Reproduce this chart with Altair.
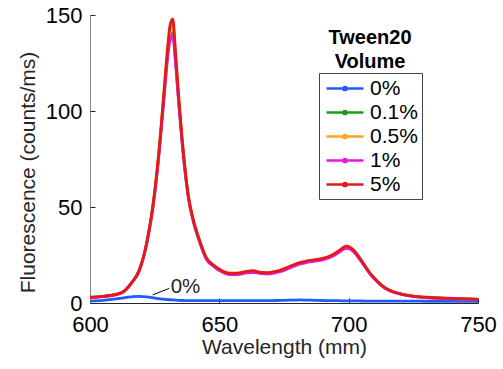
import altair as alt
import pandas as pd

wavelength = [600, 605, 610, 613, 616, 619, 622, 625, 627, 629, 630, 631, 632, 633, 634, 636, 638, 640, 642, 645,
              648, 651, 654, 657, 660, 663, 666, 669, 672, 675, 678, 681, 684, 687, 690, 693, 696, 698, 699, 700,
              702, 704, 706, 708, 711, 714, 717, 720, 725, 730, 740, 750]

series_names = ["0%", "0.1%", "0.5%", "1%", "5%"]
series_colors = ["#1f5bff", "#1a9c1a", "#ffa51a", "#e619e0", "#e31a1a"]

v_0 = [1.0, 1.4, 2.1, 2.7, 3.2, 3.5, 3.2, 2.6, 2.2, 1.9, 1.8, 1.7, 1.6, 1.5, 1.4, 1.3, 1.25, 1.2, 1.2, 1.2,
       1.2, 1.2, 1.2, 1.2, 1.2, 1.2, 1.2, 1.2, 1.3, 1.4, 1.5, 1.6, 1.5, 1.4, 1.3, 1.2, 1.2, 1.1, 1.1, 1.1,
       1.1, 1.1, 1.0, 1.0, 1.0, 1.0, 1.0, 1.0, 1.0, 0.9, 0.9, 0.9]
v_01 = [2.9, 3.4, 4.4, 5.9, 10.3, 16.8, 31.5, 57, 83, 114, 129, 139, 141, 128, 110, 78.5, 55.5, 42.5, 33.6, 23.2,
        19.2, 16.5, 15.2, 15.2, 15.9, 16.4, 15.7, 15.5, 16.2, 17.4, 19.1, 20.6, 21.6, 22.2, 22.9, 24.2, 26.5, 28.4, 29.0, 28.8,
        27.0, 23.6, 19.7, 15.8, 11.3, 7.9, 5.9, 4.7, 3.5, 2.9, 2.3, 1.9]
v_05 = [3.0, 3.5, 4.5, 6.0, 10.4, 16.9, 31.8, 57.5, 83.5, 116, 131, 142, 145, 130, 112, 79.5, 55.8, 42.8, 33.8, 23.4,
        19.4, 16.7, 15.4, 15.4, 16.1, 16.6, 15.9, 15.7, 16.4, 17.6, 19.3, 20.8, 21.8, 22.4, 23.1, 24.4, 26.8, 28.7, 29.3, 29.1,
        27.3, 23.8, 19.9, 15.9, 11.4, 7.9, 5.9, 4.7, 3.5, 2.9, 2.3, 1.9]
v_1 = [2.8, 3.3, 4.3, 5.8, 10.2, 16.6, 31.2, 56.5, 82, 113, 128, 137, 139, 126, 109, 78, 55, 42, 33.2, 22.8,
       18.8, 16.1, 14.8, 14.8, 15.5, 16.0, 15.3, 15.1, 15.8, 17.0, 18.7, 20.2, 21.2, 21.8, 22.5, 23.8, 26.1, 28.0, 28.5, 28.3,
       26.6, 23.2, 19.4, 15.5, 11.1, 7.7, 5.8, 4.6, 3.4, 2.8, 2.2, 1.8]
v_5 = [3.0, 3.5, 4.5, 6.0, 10.5, 17, 32, 58, 84, 117, 133, 145, 148, 132, 113, 80, 56, 43, 34, 23.5,
       19.5, 16.8, 15.5, 15.5, 16.3, 16.8, 16.0, 15.8, 16.5, 17.8, 19.5, 21.0, 22.0, 22.6, 23.3, 24.6, 27.0, 29.0, 29.6, 29.4,
       27.5, 24.0, 20.0, 16.0, 11.5, 8.0, 6.0, 4.8, 3.6, 3.0, 2.4, 2.0]

x_ticks = [600, 650, 700, 750]
y_ticks = [0, 50, 100, 150]

# annotation "0%" leader line and label
ann_x = [624.2, 630.6]
ann_y = [4.2, 7.6]
ann_label_x = [631.2]
ann_label_y = [8.5]
ann_label = ["0%"]

rows = []
for name, vals in zip(series_names, [v_0, v_01, v_05, v_1, v_5]):
    for w, v in zip(wavelength, vals):
        rows.append({"Wavelength": w, "Fluorescence": v, "Volume": name})
df = pd.DataFrame(rows)

FONT = "Liberation Sans"
W, H = 388, 288

xscale = alt.Scale(domain=[600, 750], nice=False, zero=False)
yscale = alt.Scale(domain=[0, 150], nice=False, zero=False)

# line from -8px to +29px (r = 10px), with a small stroked dot at its middle
legend_path = "M-0.8,0L2.9,0M0.89,0A0.16,0.16,0,1,0,1.21,0A0.16,0.16,0,1,0,0.89,0Z"

lines = alt.Chart(df).mark_line(strokeWidth=2.8, interpolate="monotone").encode(
    x=alt.X("Wavelength:Q", scale=xscale,
            axis=alt.Axis(values=x_ticks, title="Wavelength (mm)", tickSize=0, labelPadding=11,
                          labelFontSize=22, labelFont=FONT, labelColor="#000000",
                          titleFontSize=21, titleFont=FONT, titleFontWeight="normal", titleColor="#262626",
                          titlePadding=1, domainColor="#262626", grid=False, labelFlush=False)),
    y=alt.Y("Fluorescence:Q", scale=yscale,
            axis=alt.Axis(values=y_ticks, title="Fluorescence (counts/ms)", tickSize=0, labelPadding=8,
                          labelFontSize=22, labelFont=FONT, labelColor="#000000",
                          titleFontSize=21, titleFont=FONT, titleFontWeight="normal", titleColor="#262626",
                          titlePadding=7, titleY=157, titleAnchor="middle", domainColor="#888888", grid=False)),
    color=alt.Color("Volume:N", scale=alt.Scale(domain=series_names, range=series_colors),
                    legend=alt.Legend(title=None, orient="none", legendX=229, legendY=58,
                                      symbolType=legend_path, symbolSize=400, symbolStrokeWidth=2.5,
                                      labelFont=FONT, labelFontSize=21, labelColor="#000000", labelOffset=24,
                                      rowPadding=2, padding=4, strokeColor="#444444", fillColor="#ffffff",
                                      cornerRadius=0)),
    detail="Volume:N",
)

ann_line_df = pd.DataFrame({"x": ann_x, "y": ann_y})
ann_line = alt.Chart(ann_line_df).mark_line(color="#000000", strokeWidth=1).encode(
    x=alt.X("x:Q", scale=xscale,
            axis=alt.Axis(orient="top", offset=-H, values=x_ticks, labels=False, domain=False,
                          tickSize=5, tickColor="#262626", title="", grid=False)),
    y=alt.Y("y:Q", scale=yscale,
            axis=alt.Axis(orient="right", offset=-W, values=y_ticks, labels=False, domain=False,
                          tickSize=5, tickColor="#262626", title="", grid=False)),
)

ann_text_df = pd.DataFrame({"x": ann_label_x, "y": ann_label_y, "t": ann_label})
ann_text = alt.Chart(ann_text_df).mark_text(align="left", baseline="middle", font=FONT, fontSize=20.5,
                                             color="#262626").encode(
    x=alt.X("x:Q", scale=xscale, axis=None),
    y=alt.Y("y:Q", scale=yscale, axis=None),
    text="t:N",
)

title_df = pd.DataFrame({"t": ["Tween20"]})
legend_title = alt.Chart(title_df).mark_text(
    text=["Tween20", "Volume"], align="center", baseline="alphabetic", font=FONT, fontSize=20,
    fontWeight="bold", lineHeight=24, color="#000000"
).encode(x=alt.value(280), y=alt.value(29))

chart = alt.layer(lines, ann_line, ann_text, legend_title).resolve_axis(
    x="independent", y="independent"
).properties(
    width=W, height=H,
    padding={"left": 90, "top": 15, "right": 25, "bottom": 66},
    autosize=alt.AutoSizeParams(type="none"),
).configure_view(stroke="transparent")

chart.save("out.html", embed_options={"renderer": "svg", "actions": False})
